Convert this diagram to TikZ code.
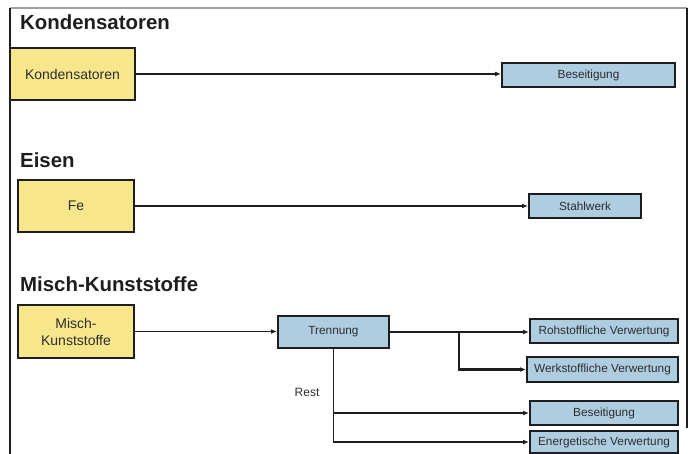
\documentclass[tikz,border=0pt]{standalone}
\usepackage{fontspec}
\setmainfont{Liberation Sans}
\usetikzlibrary{arrows.meta}
\definecolor{boxyellow}{RGB}{248,230,140}
\definecolor{boxblue}{RGB}{175,205,224}
\definecolor{ink}{RGB}{30,30,30}
\definecolor{txt}{RGB}{45,45,45}
\definecolor{framegrey}{RGB}{160,160,160}
\tikzset{
  x=1pt, y=-1pt,
  heading/.style={anchor=west, inner sep=0pt, text=ink, font=\fontsize{20.4}{24}\selectfont\bfseries},
  source/.style={draw=ink, line width=2pt, fill=boxyellow, inner sep=0pt, align=center,
    text=txt, font=\fontsize{14}{17}\selectfont},
  target/.style={draw=ink, line width=2pt, fill=boxblue, inner sep=0pt, align=center,
    text=txt, font=\fontsize{11.8}{14}\selectfont},
  flow/.style={draw=ink, line width=1.6pt, -{Latex[length=6pt,width=5pt]}},
  label/.style={inner sep=0pt, text=txt, font=\fontsize{12}{14}\selectfont}
}
\begin{document}
\begin{tikzpicture}
\useasboundingbox (0,0) rectangle (690,454);
% page frame
\draw[framegrey, line width=1.2pt] (10,8) -- (687,8);
\draw[ink, line width=1.6pt] (687,8) -- (687,428);
\draw[ink, line width=1.6pt] (10,8) -- (10,454);

% section headings
\node[heading] (h1) at (20,22) {Kondensatoren};
\node[heading] (h2) at (20,160) {Eisen};
\node[heading] (h3) at (20,284) {Misch-Kunststoffe};

% Kondensatoren
\node[source, minimum width=125pt, minimum height=52pt] (kond) at (72.5,74) {Kondensatoren};
\node[target, minimum width=173pt, minimum height=24pt] (bes1) at (588.5,75) {Beseitigung};
\draw[flow] (kond.east) -- (kond.east -| bes1.west);

% Eisen
\node[source, minimum width=116pt, minimum height=52pt] (fe) at (76,206) {Fe};
\node[target, minimum width=112pt, minimum height=24pt] (stahl) at (585,206) {Stahlwerk};
\draw[flow] (fe.east) -- (fe.east -| stahl.west);

% Misch-Kunststoffe
\node[source, minimum width=116pt, minimum height=53pt] (misch) at (76,331.5) {Misch-\\Kunststoffe};
\node[target, minimum width=111pt, minimum height=32pt] (trenn) at (333.5,332) {Trennung};
\node[target, minimum width=148pt, minimum height=24pt] (roh) at (604,331) {Rohstoffliche Verwertung};
\node[target, minimum width=151pt, minimum height=25pt] (werk) at (602.5,369.5) {Werkstoffliche Verwertung};
\node[target, minimum width=148pt, minimum height=24pt] (bes2) at (604,413) {Beseitigung};
\node[target, minimum width=148pt, minimum height=22pt] (energ) at (604,442) {Energetische Verwertung};

\draw[flow] (misch.east) -- (misch.east -| trenn.west);
\draw[flow] (trenn.east) -- (trenn.east -| roh.west);
\coordinate (split) at (459,331);
\draw[flow, line width=2.2pt] (split) |- (werk.west);
\draw[flow] (trenn.south) |- (bes2.west);
\draw[flow] (trenn.south) |- (energ.west);
\node[label] (rest) at (307,392) {Rest};
\end{tikzpicture}
\end{document}
